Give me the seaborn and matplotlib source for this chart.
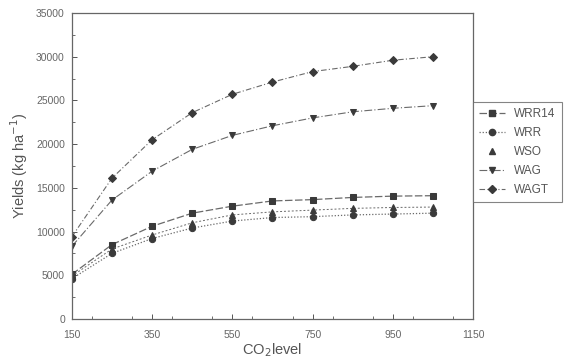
import matplotlib
matplotlib.use("Agg")
import matplotlib.pyplot as plt
from matplotlib.lines import Line2D
from matplotlib.ticker import MultipleLocator
import seaborn as sns
import pandas as pd

co2 = [150, 250, 350, 450, 550, 650, 750, 850, 950, 1050]
WRR14 = [5100, 8500, 10600, 12100, 12900, 13500, 13650, 13900, 14050, 14100]
WRR = [4600, 7500, 9200, 10400, 11200, 11600, 11700, 11900, 12000, 12100]
WSO = [4900, 8000, 9600, 11000, 11900, 12250, 12450, 12650, 12750, 12800]
WAG = [8300, 13600, 16900, 19400, 21000, 22100, 23000, 23700, 24100, 24400]
WAGT = [9400, 16100, 20500, 23600, 25700, 27100, 28300, 28900, 29600, 30000]

series_names = ["WRR14", "WRR", "WSO", "WAG", "WAGT"]
series_vals = [WRR14, WRR, WSO, WAG, WAGT]
x_ticks = [150, 350, 550, 750, 950, 1150]
y_ticks = [0, 5000, 10000, 15000, 20000, 25000, 30000, 35000]

sns.set_theme(style="white")
plt.rcParams["font.family"] = ["Liberation Sans", "DejaVu Sans"]

fig = plt.figure(figsize=(5.7, 3.62), dpi=100)
ax = fig.add_axes([0.126, 0.119, 0.704, 0.845])

styles = {
    "WRR14": dict(marker="s", ls=(0, (6, 2)), lw=0.9),
    "WRR": dict(marker="o", ls=(0, (1, 1.5)), lw=0.9),
    "WSO": dict(marker="^", ls=(0, (2, 2)), lw=0.7),
    "WAG": dict(marker="v", ls=(0, (7, 2, 1, 2)), lw=0.8),
    "WAGT": dict(marker="D", ls=(0, (5, 2, 1, 2)), lw=0.8),
}
line_col = "#6a6a6a"
mk_col = "#3a3a3a"

for name, vals in zip(series_names, series_vals):
    df = pd.DataFrame({"co2": co2, "y": vals})
    st = styles[name]
    sns.lineplot(data=df, x="co2", y="y", ax=ax, color=line_col,
                 linestyle=st["ls"], linewidth=st["lw"], marker=st["marker"],
                 markersize=4.5 if st["marker"] != "D" else 4,
                 markerfacecolor=mk_col, markeredgecolor=mk_col, legend=False)

ax.set_xlim(150, 1150)
ax.set_ylim(0, 35000)
ax.set_xticks(x_ticks)
ax.set_yticks(y_ticks)
ax.xaxis.set_minor_locator(MultipleLocator(100))
ax.yaxis.set_minor_locator(MultipleLocator(2500))
ax.tick_params(axis="both", which="major", direction="in", length=3.5, width=0.7,
               labelsize=7.5, colors="#555555", labelcolor="#666666")
ax.tick_params(axis="x", which="major", pad=8)
ax.tick_params(axis="y", which="major", pad=5)
ax.tick_params(axis="both", which="minor", direction="in", length=2, width=0.6,
               colors="#555555")
ax.tick_params(axis="both", which="both", bottom=True, left=True, top=False, right=False)
for sp in ax.spines.values():
    sp.set_color("#666666")
    sp.set_linewidth(0.9)

ax.set_xlabel("CO$_2$level", fontsize=10.5, color="#555555", labelpad=1)
ax.set_ylabel("Yields (kg ha$^{-1}$)", fontsize=10.5, color="#555555", labelpad=4)

handles = []
for name in series_names:
    st = styles[name]
    ls = "none" if name == "WSO" else st["ls"]
    handles.append(Line2D([0], [0], color=line_col, linestyle=ls, linewidth=st["lw"],
                          marker=st["marker"], markersize=4.5,
                          markerfacecolor=mk_col, markeredgecolor=mk_col))
leg = ax.legend(handles, series_names, loc="upper left", bbox_to_anchor=(1.0, 0.71),
                frameon=True, fancybox=False, fontsize=8.5, labelcolor="#555555",
                handlelength=2.2, borderaxespad=0, labelspacing=0.6, borderpad=0.5)
leg.get_frame().set_edgecolor("#666666")
leg.get_frame().set_linewidth(0.8)

fig.savefig("out.png", dpi=100)
